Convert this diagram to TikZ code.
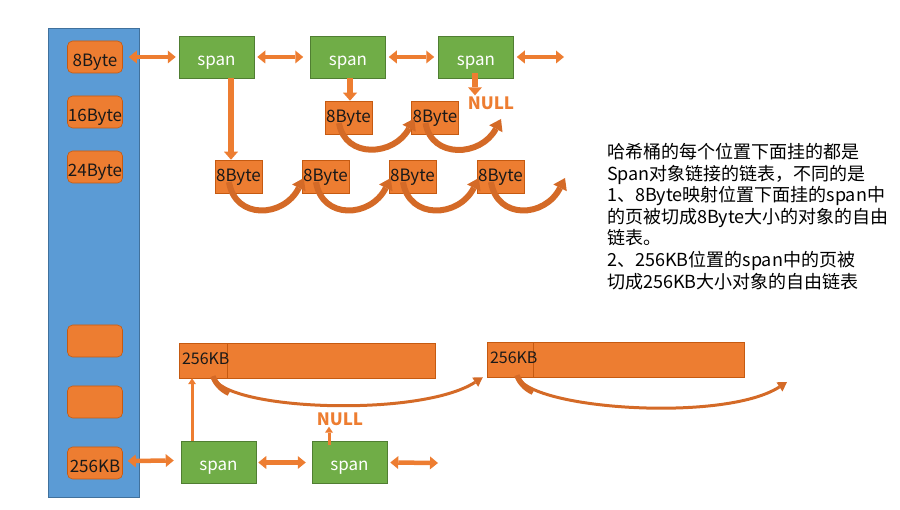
\documentclass[tikz,border=0pt]{standalone}
\usepackage{fontspec}
\setmainfont{Noto Sans CJK SC}
\usetikzlibrary{arrows.meta}
\definecolor{obox}{HTML}{ED7D31}
\definecolor{oline}{HTML}{C55A11}
\definecolor{gbox}{HTML}{70AD47}
\definecolor{gline}{HTML}{507E32}
\definecolor{bcol}{HTML}{5B9BD5}
\definecolor{bline}{HTML}{41719C}
\definecolor{ocurve}{HTML}{D46A27}
\begin{document}
\begin{tikzpicture}[x=1pt,y=-1pt,
  column/.style={draw=bline, line width=0.6pt, fill=bcol, inner sep=0pt},
  slot/.style={draw=oline, line width=0.6pt, fill=obox, rounded corners=5pt, minimum width=55pt, minimum height=32pt, inner sep=0pt, text height=20pt, text depth=0pt, text=black!90, font=\fontsize{17}{17}\selectfont},
  spanbox/.style={draw=gline, line width=0.5pt, fill=gbox, minimum width=75pt, minimum height=42pt, inner sep=0pt, text height=16.5pt, text depth=0pt, text=white, font=\fontsize{17}{17}\selectfont},
  objbox/.style={draw=oline, line width=0.5pt, fill=obox, minimum width=47pt, minimum height=33pt, inner sep=0pt, text height=10pt, text depth=0pt, text=black!90, font=\fontsize{17}{17}\selectfont},
  barbox/.style={draw=oline, line width=0.5pt, fill=obox, minimum height=35pt, inner sep=0pt},
  kbbox/.style={draw=oline, line width=0.5pt, fill=obox, minimum height=35pt, inner xsep=3pt, inner ysep=0pt, text height=9pt, text depth=0pt, align=left, text=black!90, font=\fontsize{16}{16}\selectfont},
  dblarrow/.style={obox, line width=4.5pt, {Triangle[width=13pt,length=8pt,line width=0pt]}-{Triangle[width=13pt,length=8pt,line width=0pt]}},
  downarrow/.style={obox, line width=6pt, -{Triangle[width=14pt,length=8pt,line width=0pt]}},
  thinarrow/.style={obox, line width=3pt, -{Triangle[width=8pt,length=6pt,line width=0pt]}},
  freearrow/.style={ocurve, line width=6pt, -{Triangle[width=15pt,length=11pt,line width=0pt]}},
  longcurve/.style={ocurve, line width=3pt, -{Triangle[width=11pt,length=9pt,line width=0pt]}},
  curvestart/.style={ocurve, line width=5.5pt},
  nulltext/.style={text=obox, font=\fontsize{17}{17}\selectfont\bfseries, inner sep=0pt},
]
\useasboundingbox (0,0) rectangle (900,510);

% hash bucket column
\node[column, minimum width=91pt, minimum height=469pt, anchor=north west] (col) at (48,28) {};
\node[slot] (s8)   at (95,57)  {8Byte};
\node[slot] (s16)  at (95,112) {16Byte};
\node[slot] (s24)  at (95,167) {24Byte};
\node[slot] (sa)   at (95,341) {};
\node[slot] (sb)   at (95,402) {};
\node[slot] (s256) at (95,463) {256KB};

% top span list
\node[spanbox] (sp1) at (216.5,57) {span};
\node[spanbox] (sp2) at (348,57)   {span};
\node[spanbox] (sp3) at (476,57)   {span};
\coordinate (e1) at (564,57);

% 8Byte objects
\node[objbox] (b1) at (238.5,176.5) {8Byte};
\node[objbox] (b2) at (325.5,176.5) {8Byte};
\node[objbox] (b3) at (412.5,176.5) {8Byte};
\node[objbox] (b4) at (500.5,176.5) {8Byte};
\coordinate (f1) at (565,178);
\node[objbox] (m1) at (348.5,117.5) {8Byte};
\node[objbox] (m2) at (435,117.5)   {8Byte};
\coordinate (f2) at (501,119);
\node[nulltext] (null1) at (491,103) {NULL};

% links top
\draw[dblarrow] ([xshift=6pt]s8.east) -- ([xshift=-3pt]sp1.west);
\draw[dblarrow] ([xshift=3pt]sp1.east) -- ([xshift=-7pt]sp2.west);
\draw[dblarrow] ([xshift=3pt]sp2.east) -- ([xshift=-4pt]sp3.west);
\draw[dblarrow] ([xshift=3pt]sp3.east) -- (e1);
\draw[downarrow] ([xshift=14.5pt]sp1.south) -- ([xshift=-7.5pt]b1.north);
\draw[downarrow] ([xshift=2pt]sp2.south) -- ([xshift=1.5pt]m1.north);
\draw[downarrow] ([xshift=-1pt,yshift=5pt]sp3.south) -- ([xshift=-16pt,yshift=1pt]null1.north);

% free-list curves (8Byte)
\draw[freearrow] ([xshift=-9.5pt,yshift=-5.5pt]b1.center) .. controls +(6,38) and +(-20,40) .. ([xshift=2pt,yshift=-1.5pt]b2.west);
\draw[freearrow] ([xshift=-9.5pt,yshift=-5.5pt]b2.center) .. controls +(6,38) and +(-20,40) .. ([xshift=2pt,yshift=-1.5pt]b3.west);
\draw[freearrow] ([xshift=-9.5pt,yshift=-5.5pt]b3.center) .. controls +(6,38) and +(-20,40) .. ([xshift=2pt,yshift=-1.5pt]b4.west);
\draw[freearrow] ([xshift=-9.5pt,yshift=-5.5pt]b4.center) .. controls +(6,38) and +(-20,40) .. (f1);
\draw[freearrow] ([xshift=-9.5pt,yshift=-5.5pt]m1.center) .. controls +(6,36) and +(-20,38) .. ([xshift=3pt,yshift=-1pt]m2.west);
\draw[freearrow] ([xshift=-9.5pt,yshift=-5.5pt]m2.center) .. controls +(6,36) and +(-20,38) .. (f2);

% 256KB objects
\node[barbox, minimum width=256pt] (bar1) at (307,360.5) {};
\node[kbbox, text width=42pt] (k1) at (bar1.west) [anchor=west] {256KB};
\node[barbox, minimum width=257pt] (bar2) at (615.5,359.5) {};
\node[kbbox, text width=40pt] (k2) at (bar2.west) [anchor=west] {256KB};
\coordinate (f3) at (787,382);
\draw[longcurve] ([xshift=10pt,yshift=2pt]k1.south) .. controls +(9,34) and +(-63,41) .. ([xshift=-4pt]k2.south west);
\draw[curvestart] ([xshift=10pt,yshift=2pt]k1.south) .. controls +(1.4,5.1) and +(-8.8,-3.75) .. ([xshift=26pt,yshift=-15pt]k1.south);
\draw[longcurve] ([xshift=7pt,yshift=2pt]k2.south) .. controls +(9,34) and +(-63,41) .. (f3);
\draw[curvestart] ([xshift=7pt,yshift=2pt]k2.south) .. controls +(1.4,5.1) and +(-8.8,-3.75) .. ([xshift=23pt,yshift=-15pt]k2.south);

% bottom span list
\node[spanbox] (sp4) at (218.5,462.5) {span};
\node[spanbox] (sp5) at (349.5,462.5) {span};
\coordinate (e2) at (438,463);
\node[nulltext] (null2) at (340,419) {NULL};
\draw[dblarrow] ([xshift=5pt,yshift=2pt]s256.east) -- ([xshift=-7pt,yshift=2pt]sp4.west);
\draw[dblarrow] ([xshift=2pt]sp4.east) -- ([xshift=-6pt]sp5.west);
\draw[dblarrow] ([xshift=3pt]sp5.east) -- (e2);
\draw[thinarrow] ([xshift=-26.5pt]sp4.north) -- ([xshift=-11pt]k1.south);
\draw[thinarrow] ([xshift=-20.5pt,yshift=-4pt]sp5.north) -- ([xshift=-11pt,yshift=-1pt]null2.south);

% description
\node[anchor=north west, align=left, inner sep=0pt, font=\fontsize{18}{21.6}\selectfont] (note) at (607,143) {哈希桶的每个位置下面挂的都是\\Span对象链接的链表，不同的是\\1、8Byte映射位置下面挂的span中\\的页被切成8Byte大小的对象的自由\\链表。\\2、256KB位置的span中的页被\\切成256KB大小对象的自由链表};
\end{tikzpicture}
\end{document}
